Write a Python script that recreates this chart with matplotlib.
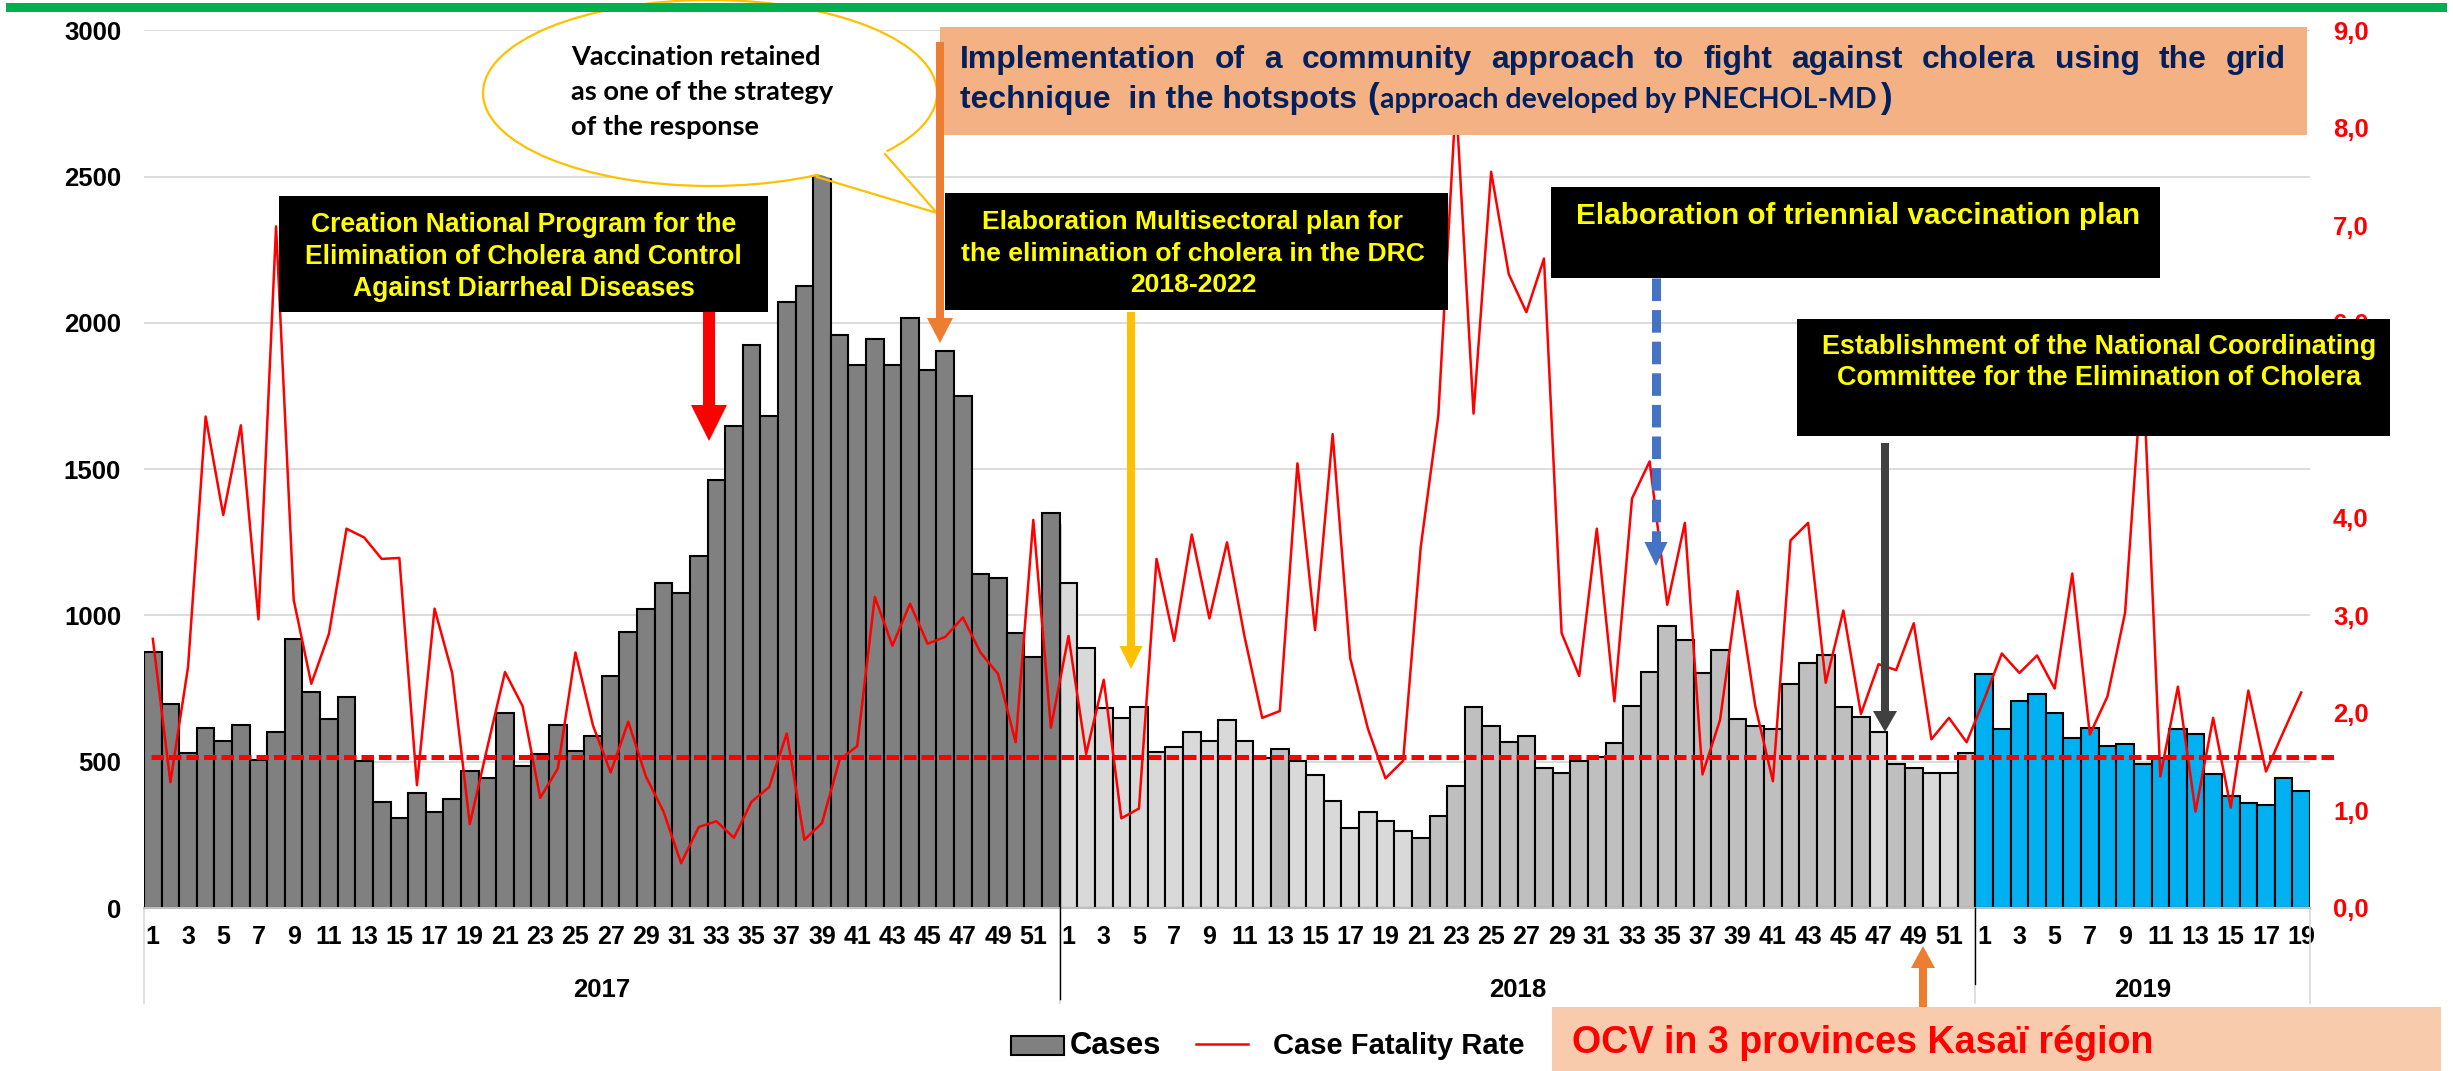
import numpy as np
import matplotlib
matplotlib.use("Agg")
import matplotlib.pyplot as plt
import matplotlib.transforms as mtransforms
from matplotlib.patches import Rectangle, Ellipse, Polygon
from matplotlib.lines import Line2D

# ---------------- data ----------------
years = ["2017", "2018", "2019"]
weeks_2017 = list(range(1, 53))
weeks_2018 = list(range(1, 53))
weeks_2019 = list(range(1, 20))

cases_2017 = [875, 696, 530, 615, 570, 627, 506, 602, 919, 737,
              646, 722, 501, 364, 307, 392, 327, 373, 468, 446,
              665, 485, 527, 627, 536, 587, 792, 945, 1021, 1111,
              1077, 1203, 1462, 1649, 1923, 1682, 2070, 2127, 2560, 1960,
              1856, 1945, 1856, 2018, 1840, 1905, 1749, 1141, 1128, 940,
              858, 1350]
cases_2018 = [1110, 888, 683, 648, 688, 532, 549, 601, 571, 641,
              570, 514, 544, 504, 454, 367, 272, 327, 298, 264,
              239, 314, 418, 688, 622, 567, 589, 480, 461, 502,
              515, 565, 692, 807, 964, 915, 802, 882, 646, 623,
              613, 767, 837, 864, 688, 652, 601, 491, 480, 460,
              463, 529]
cases_2019 = [800, 613, 708, 733, 665, 582, 617, 555, 561, 493,
              514, 613, 596, 459, 383, 360, 353, 445, 400]

cfr_2017 = [2.76, 1.29, 2.47, 5.04, 4.03, 4.95, 2.96, 6.99, 3.16, 2.30,
            2.81, 3.89, 3.80, 3.58, 3.59, 1.26, 3.07, 2.41, 0.86, 1.65,
            2.42, 2.07, 1.13, 1.43, 2.62, 1.87, 1.39, 1.91, 1.35, 0.99,
            0.46, 0.83, 0.89, 0.72, 1.09, 1.24, 1.79, 0.70, 0.87, 1.52,
            1.66, 3.19, 2.69, 3.12, 2.71, 2.78, 2.98, 2.62, 2.40, 1.70,
            3.98, 1.85]
cfr_2018 = [2.79, 1.58, 2.34, 0.92, 1.02, 3.58, 2.74, 3.83, 2.97, 3.75,
            2.78, 1.95, 2.02, 4.56, 2.85, 4.86, 2.56, 1.84, 1.33, 1.51,
            3.70, 5.05, 8.30, 5.07, 7.55, 6.50, 6.11, 6.66, 2.82, 2.38,
            3.89, 2.12, 4.20, 4.58, 3.11, 3.95, 1.37, 1.93, 3.25, 2.07,
            1.30, 3.77, 3.95, 2.31, 3.05, 1.99, 2.50, 2.44, 2.92, 1.73,
            1.95, 1.70]
cfr_2019 = [2.14, 2.61, 2.41, 2.59, 2.25, 3.43, 1.78, 2.17, 3.03, 5.60,
            1.35, 2.27, 0.99, 1.95, 1.03, 2.23, 1.40, 1.81, 2.21]

cfr_reference = 1.55

# bar shading (style): D = dark grey, L = light grey, M = medium grey, B = blue
shade_2017 = ["D"] * 52
shade_2018 = (["L"] * 12 + ["M"] + ["L"] * 7 + ["M"] * 26 + ["L"] + ["M"] * 2
              + ["L"] * 2 + ["M"])
shade_2019 = ["B"] * 19
shade_colors = {"D": "#808080", "L": "#d9d9d9", "M": "#bfbfbf", "B": "#00b0f0"}

# ---------------- figure ----------------
W, H, DPI = 2453, 1071, 100
plt.rcParams["font.family"] = ["Liberation Sans", "DejaVu Sans"]
fig = plt.figure(figsize=(W / DPI, H / DPI), dpi=DPI)
fig.patch.set_facecolor("white")

PIX = mtransforms.Affine2D().scale(1 / W, -1 / H).translate(0, 1) + fig.transFigure

ax = fig.add_axes([144 / W, 1 - 908 / H, (2310 - 144) / W, (908 - 30.4) / H])
ax2 = ax.twinx()

cases = cases_2017 + cases_2018 + cases_2019
cfr = cfr_2017 + cfr_2018 + cfr_2019
shades = shade_2017 + shade_2018 + shade_2019
weeks = weeks_2017 + weeks_2018 + weeks_2019
n = len(cases)
x = np.arange(n)

ax.bar(x, cases, width=1.0, color=[shade_colors[s] for s in shades],
       edgecolor="black", linewidth=1.5, zorder=2)
ax.set_xlim(-0.5, n - 0.5)
ax.set_ylim(0, 3000)
ax.set_yticks(range(0, 3001, 500))
ax.yaxis.grid(True, color="#d9d9d9", linewidth=1.3)
ax.set_axisbelow(True)
for sp in ["top", "left", "right"]:
    ax.spines[sp].set_visible(False)
ax.spines["bottom"].set_color("#bfbfbf")
ax.spines["bottom"].set_linewidth(1.5)
ax.tick_params(axis="y", length=0, pad=16.5, labelsize=18.5)
for lab in ax.get_yticklabels():
    lab.set_fontweight("bold")

odd_idx = [i for i, w in enumerate(weeks) if w % 2 == 1]
ax.set_xticks(odd_idx)
ax.set_xticklabels([str(weeks[i]) for i in odd_idx], fontsize=18, fontweight="bold")
ax.tick_params(axis="x", length=0, pad=12)

ax2.plot(x, cfr, color="red", linewidth=1.8, zorder=3)
ax2.plot([-0.1, n + 1.1], [cfr_reference, cfr_reference], color="red",
         linewidth=3.6, dashes=(2.5, 1.0), clip_on=False, zorder=3)
ax2.set_ylim(0, 9)
ax2.set_yticks(np.arange(0, 9.1, 1))
ax2.set_yticklabels([f"{v:.1f}".replace(".", ",") for v in np.arange(0, 9.1, 1)],
                    color="red", fontsize=18.5, fontweight="bold")
ax2.tick_params(axis="y", length=0, pad=16.5)
for sp in ax2.spines.values():
    sp.set_visible(False)

# year labels and separators
XPIX = mtransforms.blended_transform_factory(ax.transData, PIX)
starts = [0, len(cases_2017), len(cases_2017) + len(cases_2018), n]
for yr, a, b in zip(years, starts[:-1], starts[1:]):
    ax.text((a + b - 1) / 2, 997, yr, transform=XPIX, ha="center", va="baseline",
            fontsize=18.5, fontweight="bold")
for s in starts:
    ax.add_line(Line2D([s - 0.5, s - 0.5], [908, 1003], transform=XPIX,
                       color="#d9d9d9", linewidth=1.2, clip_on=False))
ax.add_line(Line2D([starts[1] - 0.5] * 2, [524, 999], transform=XPIX,
                   color="black", linewidth=1.0, clip_on=False, zorder=4))
ax.add_line(Line2D([starts[2] - 0.5] * 2, [908, 984], transform=XPIX,
                   color="black", linewidth=1.0, clip_on=False, zorder=4))

# ---------------- annotation helpers ----------------
R = fig.canvas.get_renderer()


def rect(x0, y0, x1, y1, fc, z=5, ec="none", lw=0):
    fig.add_artist(Rectangle((x0, y0), x1 - x0, y1 - y0, transform=PIX,
                             facecolor=fc, edgecolor=ec, linewidth=lw, zorder=z))


def text(xp, yp, s, size, ha="left", va="baseline", z=6, **kw):
    return fig.text(xp, yp, s, transform=PIX, fontsize=size, ha=ha, va=va,
                    zorder=z, **kw)


def width_of(t):
    return t.get_window_extent(renderer=R).width


def fit_size(s, width, **kw):
    t = fig.text(0, 0, s, fontsize=20, **kw)
    w = width_of(t)
    t.remove()
    return 20 * width / w


def arrow(xc, y0, y1, shaft, head_w, head_len, color, z=7):
    d = 1 if y1 > y0 else -1
    yb = y1 - d * head_len
    pts = [(xc - shaft / 2, y0), (xc + shaft / 2, y0), (xc + shaft / 2, yb),
           (xc + head_w / 2, yb), (xc, y1), (xc - head_w / 2, yb),
           (xc - shaft / 2, yb)]
    fig.add_artist(Polygon(pts, closed=True, transform=PIX, facecolor=color,
                           edgecolor="none", zorder=z))


def justified(words, x0, x1, y, size, **kw):
    ts = [text(0, y, w, size, **kw) for w in words]
    ws = [width_of(t) for t in ts]
    gap = (x1 - x0 - sum(ws)) / (len(words) - 1)
    xx = x0
    for t, w in zip(ts, ws):
        t.set_position((xx, y))
        xx += w + gap


ARIAL = dict(fontweight="bold", family=["Liberation Sans", "DejaVu Sans"])
CALI = dict(fontweight="bold", family=["Lato", "DejaVu Sans"])
YEL = "#ffff00"
NAVY = "#002060"

# top green rule
rect(6, 3, 2447, 12, "#00b050", z=9)

# speech bubble
fig.add_artist(Ellipse((710, 93), 454, 186, transform=PIX, facecolor="white",
                       edgecolor="#ffc000", linewidth=1.6, zorder=5))
fig.add_artist(Polygon([(812, 172), (884, 148), (937, 213)], closed=True,
                       transform=PIX, facecolor="white", edgecolor="none", zorder=5.1))
fig.add_artist(Line2D([817, 937, 885], [177, 213, 154], transform=PIX,
                      color="#ffc000", linewidth=1.6, zorder=5.2))
bsize = fit_size("Vaccination retained", 251, **CALI)
for s, yb in zip(["Vaccination retained", "as one of the strategy", "of the response"],
                 [65, 100, 135]):
    text(571, yb, s, bsize, color="black", **CALI)

# orange top box
rect(940, 27, 2307, 135, "#f4b183", z=5)
tsize = fit_size("cholera", 113, **ARIAL)
justified("Implementation of a community approach to fight against cholera using the grid".split(),
          960, 2286, 68, tsize, color=NAVY, **ARIAL)
text(960, 108, "technique  in the hotspots", tsize, color=NAVY, **ARIAL)
text(1367, 108, "(", tsize * 1.1, color=NAVY, **ARIAL)
psize = fit_size("approach developed by PNECHOL-MD", 498, **CALI)
text(1380, 108, "approach developed by PNECHOL-MD", psize, color=NAVY, **CALI)
text(1880, 108, ")", tsize * 1.1, color=NAVY, **ARIAL)
arrow(940, 42, 343, 8, 26, 25, "#ed7d31")

# black box 1
rect(279, 196, 768, 312, "black")
s1 = fit_size("Elimination of Cholera and Control", 437, **ARIAL)
for s, yb in zip(["Creation National Program for the",
                  "Elimination of Cholera and Control",
                  "Against Diarrheal Diseases"], [232, 264, 296]):
    text(523.5, yb, s, s1, ha="center", color=YEL, **ARIAL)
arrow(709, 312, 441, 12, 36, 36, "red")

# black box 2
rect(945, 193, 1448, 310, "black")
s2 = fit_size("the elimination of cholera in the DRC", 463, **ARIAL)
for s, yb in zip(["Elaboration Multisectoral plan for",
                  "the elimination of cholera in the DRC", "2018-2022"],
                 [229, 261, 292]):
    text(1193, yb, s, s2, ha="center", color=YEL, **ARIAL)
arrow(1131, 312, 669, 8, 23, 23, "#ffc000")

# black box 3
rect(1551, 187, 2160, 278, "black")
s3 = fit_size("Elaboration of triennial vaccination plan", 563, **ARIAL)
text(1576, 224, "Elaboration of triennial vaccination plan", s3, color=YEL, **ARIAL)
fig.add_artist(Line2D([1656, 1656], [278, 542], transform=PIX, color="#4472c4",
                      linewidth=6.5, dashes=(2.5, 1.0), zorder=7))
arrow(1656, 540, 566, 0.1, 23, 24, "#4472c4")

# black box 4
rect(1797, 319, 2390, 436, "black")
s4 = fit_size("Establishment of the National Coordinating", 555, **ARIAL)
for s, yb in zip(["Establishment of the National Coordinating",
                  "Committee for the Elimination of Cholera"], [354, 385]):
    text(2099, yb, s, s4, ha="center", color=YEL, **ARIAL)
arrow(1885, 443, 732, 8, 24, 21, "#404040")

# OCV box
rect(1552, 1007, 2441, 1075, "#f8cbad")
s5 = fit_size("OCV in 3 provinces Kasaï région", 580, **ARIAL)
text(1572, 1053, "OCV in 3 provinces Kasaï région", s5, color="red", **ARIAL)
arrow(1923, 1007, 946, 8, 24, 22, "#ed7d31")

# legend
rect(1011, 1036, 1064, 1055, "#808080", z=6, ec="black", lw=1.5)
lsz = fit_size("Cases", 91, **ARIAL)
text(1070, 1054, "Cases", lsz, color="black", **ARIAL)
fig.add_artist(Line2D([1196, 1248], [1044, 1044], transform=PIX, color="red",
                      linewidth=1.8, zorder=6))
lsz2 = fit_size("Case Fatality Rate", 250, **ARIAL)
text(1273, 1054, "Case Fatality Rate", lsz2, color="black", **ARIAL)

fig.savefig("out.png", dpi=DPI, facecolor="white")
